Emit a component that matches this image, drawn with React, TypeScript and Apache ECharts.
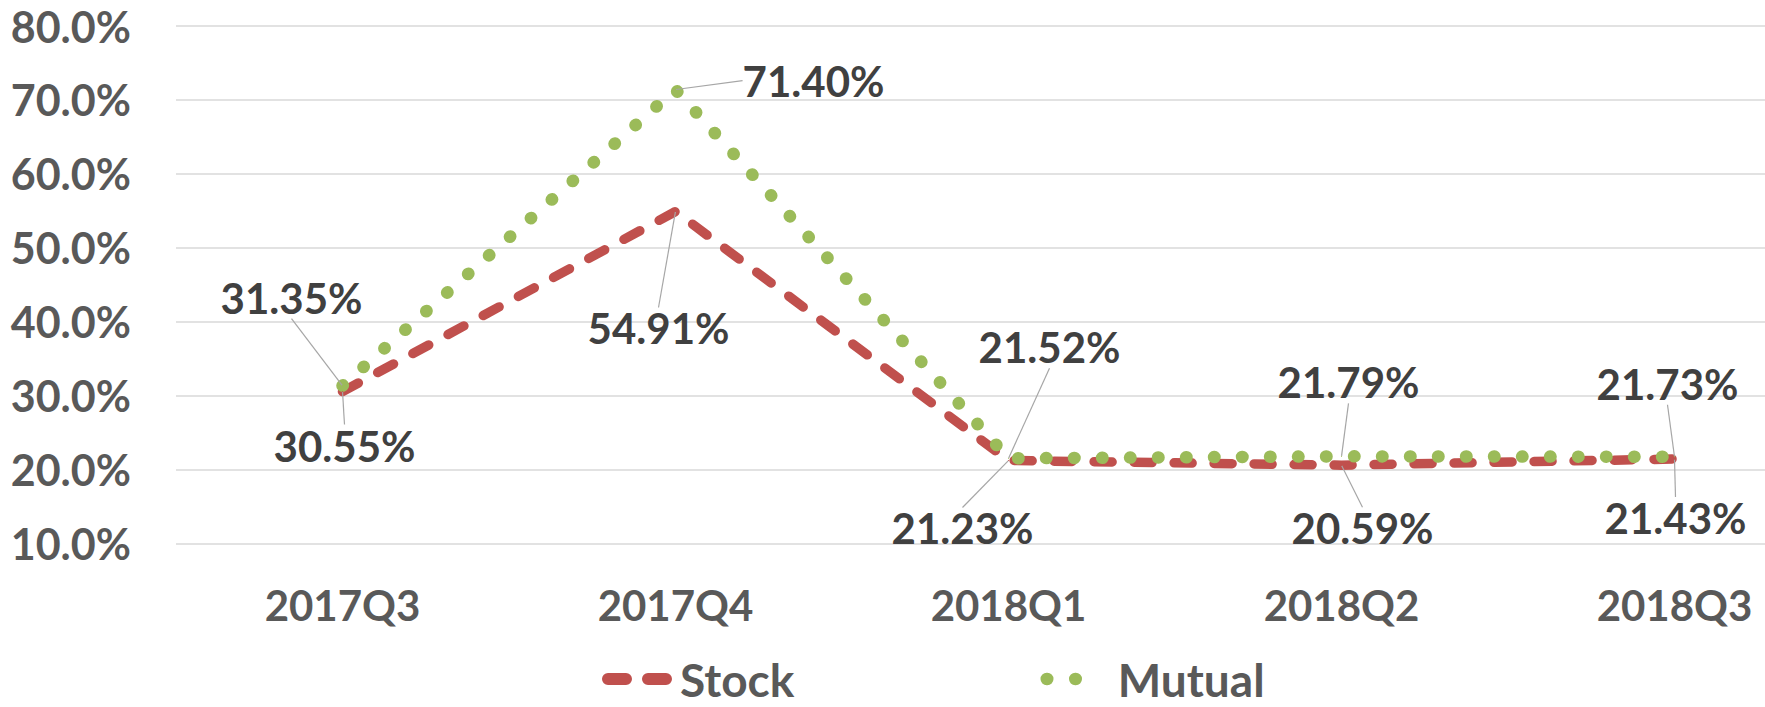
import React, { useEffect, useRef } from "react";
import * as echarts from "echarts";

const categories = ["2017Q3", "2017Q4", "2018Q1", "2018Q2", "2018Q3"];
const stockValues = [30.55, 54.91, 21.23, 20.59, 21.43];
const mutualValues = [31.35, 71.4, 21.52, 21.79, 21.73];
const yTicks = { min: 10, max: 80, interval: 10 };

// label offsets (dx, dy) from each point to its label centre, in pixels
const stockLabelOffsets = [
  [2, 54],
  [-17, 117],
  [-46, 68],
  [21, 63],
  [1, 59],
];
const mutualLabelOffsets = [
  [-51, -88],
  [138, -9],
  [41, -111],
  [7, -74],
  [-7, -73],
];

const FONT = "Lato, 'Open Sans', sans-serif";
const LEGEND_FONT = "Lato, 'Open Sans', sans-serif";

function makeLayout(offsets: number[][]) {
  return (p: any) => {
    const off = offsets[p.dataIndex] || [0, 0];
    return {
      x: p.rect.x + p.rect.width / 2 + off[0],
      y: p.rect.y + p.rect.height / 2 + off[1],
      align: "center",
      verticalAlign: "middle",
    };
  };
}

export default function App() {
  const ref = useRef<HTMLDivElement>(null);
  useEffect(() => {
    if (!ref.current) return;
    const chart = echarts.init(ref.current, undefined, { renderer: "svg" });
    const labelStyle = {
      show: true,
      position: "inside",
      fontFamily: FONT,
      fontSize: 42,
      fontWeight: "bold",
      color: "#404040",
      formatter: (p: any) => `${Number(p.value).toFixed(2)}%`,
    };
    const labelLine = {
      show: true,
      lineStyle: { color: "#A6A6A6", width: 1.2 },
    };
    const legendText = {
      fontFamily: LEGEND_FONT,
      fontSize: 46,
      fontWeight: "bold",
      color: "#595959",
      padding: [0, 0, 0, 9],
    };
    chart.setOption({
      animation: false,
      backgroundColor: "#ffffff",
      grid: { left: 176, right: 0, top: 26, bottom: 163.5, containLabel: false },
      legend: [
        {
          data: [
            {
              name: "Stock",
              itemStyle: { opacity: 0 },
              lineStyle: { type: [18, 22], width: 12, cap: "round", color: "#C0504D" },
            },
          ],
          left: 597,
          top: 651,
          itemWidth: 58,
          itemHeight: 14,
          textStyle: legendText,
        },
        {
          data: [
            {
              name: "Mutual",
              itemStyle: { opacity: 0 },
              lineStyle: { type: [0.5, 28], width: 12.5, cap: "round", color: "#9BBB59" },
            },
          ],
          left: 1035.5,
          top: 651,
          itemWidth: 57,
          itemHeight: 14,
          textStyle: legendText,
        },
      ],
      xAxis: {
        type: "category",
        data: categories,
        boundaryGap: true,
        axisLine: { show: false },
        axisTick: { show: false },
        axisLabel: {
          margin: 40,
          fontFamily: FONT,
          fontSize: 42,
          fontWeight: "bold",
          color: "#595959",
        },
      },
      yAxis: {
        type: "value",
        min: yTicks.min,
        max: yTicks.max,
        interval: yTicks.interval,
        axisLine: { show: false },
        axisTick: { show: false },
        splitLine: { show: true, lineStyle: { color: "#D9D9D9", width: 1.5 } },
        axisLabel: {
          margin: 45,
          fontFamily: FONT,
          fontSize: 43,
          fontWeight: "bold",
          color: "#595959",
          formatter: (v: number) => `${v.toFixed(1)}%`,
        },
      },
      series: [
        {
          name: "Stock",
          type: "line",
          data: stockValues,
          symbol: "circle",
          symbolSize: 1,
          itemStyle: { color: "#C0504D" },
          lineStyle: { color: "#C0504D", width: 9.5, type: [18, 22], cap: "round", join: "round" },
          label: labelStyle,
          labelLine,
          labelLayout: makeLayout(stockLabelOffsets),
        },
        {
          name: "Mutual",
          type: "line",
          data: mutualValues,
          symbol: "circle",
          symbolSize: 1,
          itemStyle: { color: "#9BBB59" },
          lineStyle: { color: "#9BBB59", width: 12.5, type: [0.5, 27.5], cap: "round", join: "round" },
          label: labelStyle,
          labelLine,
          labelLayout: makeLayout(mutualLabelOffsets),
        },
      ],
    });
    return () => chart.dispose();
  }, []);
  return (
    <div
      style={{
        position: "fixed",
        left: 0,
        top: 0,
        width: 1765,
        height: 707,
        overflow: "hidden",
        background: "#fff",
      }}
    >
      <div ref={ref} style={{ width: 1841, height: 707 }} />
    </div>
  );
}
